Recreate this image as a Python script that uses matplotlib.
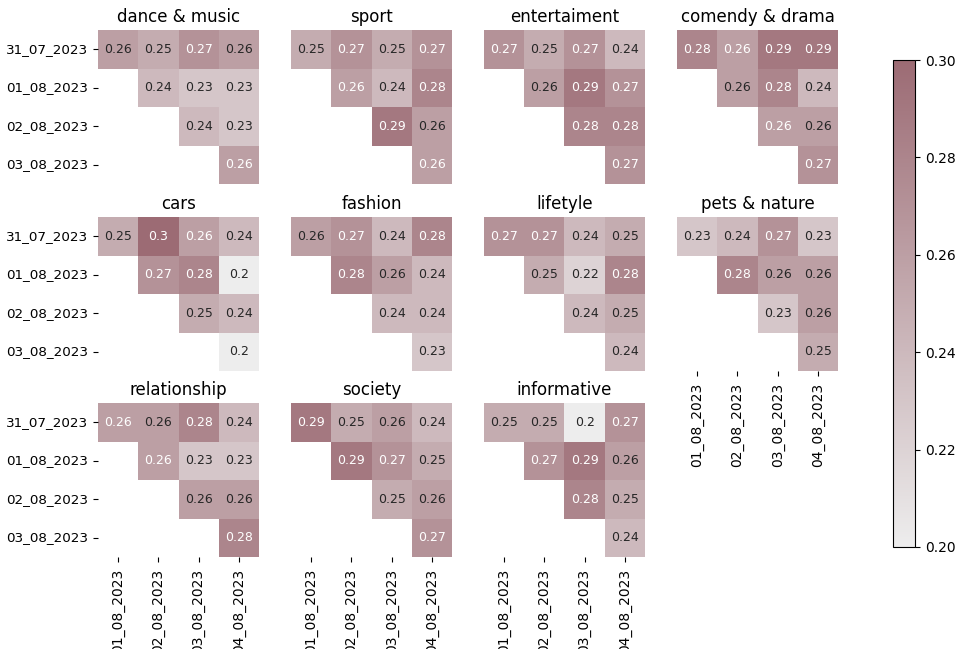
import numpy as np
import matplotlib
matplotlib.use('Agg')
import matplotlib.pyplot as plt
import seaborn as sns
from matplotlib.colors import LinearSegmentedColormap, Normalize
from matplotlib.cm import ScalarMappable

nan = np.nan

# Row / column dates of the pairwise matrices
row_dates = ['31_07_2023', '01_08_2023', '02_08_2023', '03_08_2023']
col_dates = ['01_08_2023', '02_08_2023', '03_08_2023', '04_08_2023']

categories = ['dance & music', 'sport', 'entertaiment', 'comendy & drama',
              'cars', 'fashion', 'lifetyle', 'pets & nature',
              'relationship', 'society', 'informative']

dance_music = [[0.26, 0.25, 0.27, 0.26],
               [nan, 0.24, 0.23, 0.23],
               [nan, nan, 0.24, 0.23],
               [nan, nan, nan, 0.26]]
sport = [[0.25, 0.27, 0.25, 0.27],
         [nan, 0.26, 0.24, 0.28],
         [nan, nan, 0.29, 0.26],
         [nan, nan, nan, 0.26]]
entertaiment = [[0.27, 0.25, 0.27, 0.24],
                [nan, 0.26, 0.29, 0.27],
                [nan, nan, 0.28, 0.28],
                [nan, nan, nan, 0.27]]
comendy_drama = [[0.28, 0.26, 0.29, 0.29],
                 [nan, 0.26, 0.28, 0.24],
                 [nan, nan, 0.26, 0.26],
                 [nan, nan, nan, 0.27]]
cars = [[0.25, 0.30, 0.26, 0.24],
        [nan, 0.27, 0.28, 0.20],
        [nan, nan, 0.25, 0.24],
        [nan, nan, nan, 0.20]]
fashion = [[0.26, 0.27, 0.24, 0.28],
           [nan, 0.28, 0.26, 0.24],
           [nan, nan, 0.24, 0.24],
           [nan, nan, nan, 0.23]]
lifetyle = [[0.27, 0.27, 0.24, 0.25],
            [nan, 0.25, 0.22, 0.28],
            [nan, nan, 0.24, 0.25],
            [nan, nan, nan, 0.24]]
pets_nature = [[0.23, 0.24, 0.27, 0.23],
               [nan, 0.28, 0.26, 0.26],
               [nan, nan, 0.23, 0.26],
               [nan, nan, nan, 0.25]]
relationship = [[0.26, 0.26, 0.28, 0.24],
                [nan, 0.26, 0.23, 0.23],
                [nan, nan, 0.26, 0.26],
                [nan, nan, nan, 0.28]]
society = [[0.29, 0.25, 0.26, 0.24],
           [nan, 0.29, 0.27, 0.25],
           [nan, nan, 0.25, 0.26],
           [nan, nan, nan, 0.27]]
informative = [[0.25, 0.25, 0.20, 0.27],
               [nan, 0.27, 0.29, 0.26],
               [nan, nan, 0.28, 0.25],
               [nan, nan, nan, 0.24]]

matrices = [dance_music, sport, entertaiment, comendy_drama, cars, fashion,
            lifetyle, pets_nature, relationship, society, informative]

# 0.26 cells sit right at the text colour switch; these ones got white text
white_026 = {0: [(3, 3)], 1: [(1, 1), (3, 3)], 3: [(0, 1), (2, 2)],
             4: [(0, 2)], 8: [(0, 0), (1, 1)]}

cmap = LinearSegmentedColormap.from_list('mauve', ['#ededed', '#9c6b74'])
vmin, vmax = 0.20, 0.30

fig = plt.figure(figsize=(9.65, 6.49), dpi=100)

W, H = 965, 649
col_x = [98, 291, 484, 677]
row_top = [30, 217, 403]
aw, ah = 161, 154

for i, (name, data) in enumerate(zip(categories, matrices)):
    r, c = divmod(i, 4)
    ax = fig.add_axes([col_x[c] / W, (H - row_top[r] - ah) / H, aw / W, ah / H])
    arr = np.array(data, dtype=float)
    sns.heatmap(arr, ax=ax, cmap=cmap, vmin=vmin, vmax=vmax, cbar=False,
                xticklabels=col_dates, yticklabels=row_dates)
    for (ri, ci), v in np.ndenumerate(arr):
        if np.isnan(v):
            continue
        light = v >= 0.265 or (ri, ci) in white_026.get(i, [])
        ax.text(ci + 0.5, ri + 0.5, f'{v:.2g}', ha='center', va='center',
                fontsize=9, color='w' if light else '#262626')
    ax.set_title(name, fontsize=12)
    ax.tick_params(axis='y', labelsize=9.7)
    ax.tick_params(axis='x', labelsize=10, pad=5)
    if c == 0:
        ax.set_yticklabels(row_dates, rotation=0)
    else:
        ax.tick_params(axis='y', left=False, labelleft=False)
    if r == 2 or i == 7:
        ax.set_xticklabels(col_dates, rotation=90)
    else:
        ax.tick_params(axis='x', bottom=False, labelbottom=False)

# Shared colour bar
cax = fig.add_axes([893 / W, 102 / H, 22 / W, 487 / H])
sm = ScalarMappable(norm=Normalize(vmin, vmax), cmap=cmap)
cb = fig.colorbar(sm, cax=cax, ticks=np.arange(0.20, 0.301, 0.02))
cb.ax.set_yticklabels([f'{t:.2f}' for t in np.arange(0.20, 0.301, 0.02)])
cb.ax.tick_params(labelsize=10)

fig.savefig('out.png', dpi=100)
